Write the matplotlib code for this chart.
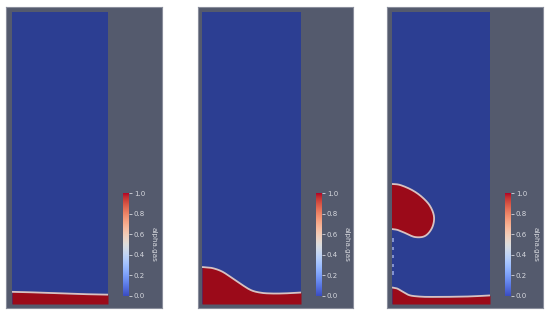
import numpy as np
import matplotlib
matplotlib.use("Agg")
import matplotlib.pyplot as plt

# ---------------- data (domain units: x in [0,1], y in [0,3]) ----------------
layer_x = [0.0, 0.1, 0.2, 0.3, 0.4, 0.5, 0.6, 0.7, 0.8, 0.9, 1.0]
layer1_h = [0.125, 0.123, 0.120, 0.117, 0.113, 0.110, 0.106, 0.103, 0.100, 0.098, 0.096]
layer2_h = [0.380, 0.370, 0.335, 0.270, 0.200, 0.140, 0.115, 0.108, 0.108, 0.112, 0.118]
layer3_x = [0.0, 0.05, 0.1, 0.15, 0.2, 0.3, 0.4, 0.6, 0.8, 1.0]
layer3_h = [0.170, 0.160, 0.132, 0.102, 0.085, 0.075, 0.073, 0.074, 0.078, 0.088]
bubble_x = [0.0, 0.082, 0.204, 0.306, 0.388, 0.429, 0.408, 0.337, 0.235, 0.133, 0.061, 0.0]
bubble_y = [1.233, 1.223, 1.171, 1.099, 1.007, 0.894, 0.781, 0.699, 0.688, 0.730, 0.760, 0.770]
frag_y = [0.657, 0.570, 0.485, 0.400, 0.318]
cbar_ticks = [0.0, 0.2, 0.4, 0.6, 0.8, 1.0]
cbar_label = "alpha.gas"

# ---------------- style ----------------
W, H = 550, 317
BG = "#545a6d"
BLUE = "#2c3e92"
RED = "#9b0a19"
EDGE = "#d8c2c2"
TXT = "#d6d8de"

fig = plt.figure(figsize=(W / 100, H / 100), dpi=100)
fig.patch.set_facecolor("white")


def box(x0, y0, x1, y1):
    return [x0 / W, 1 - y1 / H, (x1 - x0) / W, (y1 - y0) / H]


def catmull(xs, ys, n=20):
    xs = np.asarray(xs, float)
    ys = np.asarray(ys, float)
    P = np.stack([xs, ys], 1)
    P = np.vstack([P[0], P, P[-1]])
    out = []
    t = np.linspace(0, 1, n, endpoint=False)
    for i in range(1, len(P) - 2):
        p0, p1, p2, p3 = P[i - 1], P[i], P[i + 1], P[i + 2]
        tt = t[:, None]
        pts = 0.5 * ((2 * p1) + (-p0 + p2) * tt + (2 * p0 - 5 * p1 + 4 * p2 - p3) * tt ** 2
                     + (-p0 + 3 * p1 - 3 * p2 + p3) * tt ** 3)
        out.append(pts)
    out.append(P[-2][None, :])
    out = np.vstack(out)
    return out[:, 0], out[:, 1]


panels = [
    dict(frame=(6, 7, 162, 308), dom=(12, 12, 108, 304), cb=(123, 193, 129, 296),
         lx=layer_x, lh=layer1_h, bubble=False),
    dict(frame=(198, 7, 353, 308), dom=(202, 12, 301, 304), cb=(316, 193, 322, 296),
         lx=layer_x, lh=layer2_h, bubble=False),
    dict(frame=(387, 7, 543, 308), dom=(392, 12, 490, 304), cb=(505, 193, 511, 296),
         lx=layer3_x, lh=layer3_h, bubble=True),
]

for p in panels:
    # background frame
    fa = fig.add_axes(box(*p["frame"]))
    fa.set_facecolor(BG)
    fa.set_xticks([]); fa.set_yticks([])
    for s in fa.spines.values():
        s.set_color("#8a8e9c"); s.set_linewidth(0.8)

    # domain
    ax = fig.add_axes(box(*p["dom"]))
    ax.set_facecolor(BLUE)
    ax.set_xlim(0, 1); ax.set_ylim(0, 3)
    ax.set_xticks([]); ax.set_yticks([])
    for s in ax.spines.values():
        s.set_visible(False)
    sx, sy = catmull(p["lx"], p["lh"], 15)
    ax.fill_between(sx, 0, sy, color=RED, lw=0)
    ax.plot(sx, sy, color=EDGE, lw=1.3, solid_capstyle="butt")
    if p["bubble"]:
        bx, by = catmull(bubble_x, bubble_y, 20)
        ax.fill(bx, by, color=RED, lw=0)
        ax.plot(bx, by, color=EDGE, lw=1.3)
        for fy in frag_y:
            ax.plot([0.012, 0.012], [fy - 0.016, fy + 0.016], color="#8c9cd8", lw=1.3,
                    solid_capstyle="butt")

    # colorbar
    ca = fig.add_axes(box(*p["cb"]))
    grad = np.linspace(0, 1, 256)[:, None]
    ca.imshow(grad, aspect="auto", cmap="coolwarm", origin="lower", extent=(0, 1, 0, 1),
              vmin=0, vmax=1)
    ca.set_xticks([])
    ca.yaxis.tick_right()
    ca.set_yticks(cbar_ticks)
    ca.set_yticklabels([f"{t:.1f}" for t in cbar_ticks])
    ca.tick_params(axis="y", colors=TXT, labelsize=5, length=2.5, width=0.6, pad=1)
    for s in ca.spines.values():
        s.set_visible(False)
    ca.set_ylim(0, 1)
    ca.set_ylabel(cbar_label, rotation=270, color=TXT, fontsize=5.2, labelpad=8)
    ca.yaxis.set_label_position("right")

fig.savefig("out.png", dpi=100, facecolor=fig.get_facecolor())
